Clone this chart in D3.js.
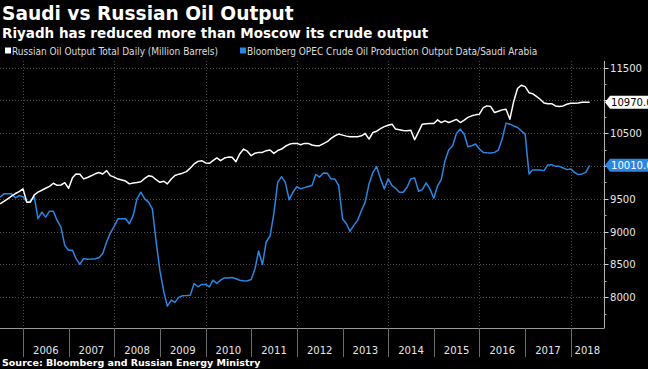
<!DOCTYPE html>
<html>
<head>
<meta charset="utf-8">
<script src="https://cdn.jsdelivr.net/npm/d3@7"></script>
<style>
  html, body { margin: 0; padding: 0; background: #000; }
  svg { display: block; }
</style>
</head>
<body>
<div id="chart"></div>
<script>
// monthly values, first point is Jul 2005
const firstMonth = new Date(2005, 6, 1);

const russia = [
  9423, 9460, 9500, 9540, 9580, 9610, 9651, 9448, 9448, 9560, 9600, 9630,
  9660, 9690, 9736, 9705, 9710, 9745, 9660, 9820, 9878, 9875, 9803, 9825,
  9850, 9880, 9900, 9878, 9929, 9853, 9830, 9800, 9785, 9770, 9727, 9740,
  9748, 9760, 9810, 9850, 9840, 9790, 9751, 9767, 9727, 9800, 9855, 9875,
  9890, 9914, 9970, 10030, 10070, 10081, 10046, 10040, 10080, 10122, 10081, 10120,
  10135, 10132, 10066, 10182, 10258, 10225, 10157, 10195, 10207, 10207, 10233, 10243,
  10192, 10235, 10258, 10300, 10330, 10344, 10344, 10324, 10344, 10344, 10320, 10309,
  10309, 10340, 10370, 10420, 10460, 10486, 10470, 10455, 10445, 10445, 10445, 10460,
  10495, 10410, 10510, 10530, 10570, 10600, 10620, 10637, 10562, 10551, 10540, 10536,
  10546, 10399, 10520, 10637, 10645, 10647, 10647, 10703, 10662, 10688, 10662, 10685,
  10710, 10662, 10700, 10740, 10764, 10779, 10789, 10890, 10916, 10905, 10814, 10835,
  10855, 10865, 10713, 10980, 11180, 11230, 11209, 11117, 11102, 11060, 11017, 10960,
  10950, 10950, 10915, 10905, 10915, 10940, 10955, 10957, 10960, 10970, 10970, 10970
];

const saudi = [
  9524, 9575, 9575, 9575, 9514, 9549, 9530, 9448, 9463, 9534, 9196, 9296,
  9220, 9311, 9311, 9170, 9068, 8790, 8714, 8714, 8588, 8502, 8588, 8578,
  8580, 8585, 8600, 8664, 8841, 8980, 9080, 9196, 9196, 9196, 9120, 9246,
  9499, 9600, 9499, 9448, 9347, 8850, 8400, 8080, 7864, 7956, 7921, 8000,
  8021, 8025, 8031, 8209, 8158, 8194, 8194, 8158, 8259, 8209, 8259, 8294,
  8294, 8300, 8280, 8259, 8250, 8248, 8270, 8437, 8704, 8497, 8841, 8932,
  9271, 9751, 9838, 9751, 9484, 9600, 9686, 9651, 9670, 9686, 9701, 9870,
  9830, 9894, 9889, 9803, 9800, 9701, 9196, 9120, 9003, 9094, 9170, 9322,
  9448, 9727, 9903, 9990, 9803, 9651, 9803, 9701, 9660, 9600, 9600, 9676,
  9803, 9818, 9615, 9640, 9742, 9651, 9509, 9701, 9787, 10081, 10248, 10309,
  10495, 10562, 10486, 10293, 10309, 10334, 10258, 10207, 10200, 10197, 10207, 10243,
  10410, 10653, 10637, 10610, 10586, 10536, 10486, 9879, 9940, 9940, 9940, 9929,
  10015, 10020, 9994, 9994, 9970, 9944, 9955, 9903, 9868, 9879, 9903, 10010
];

const years = ['2006', '2007', '2008', '2009', '2010', '2011', '2012',
               '2013', '2014', '2015', '2016', '2017', '2018'];
const yTicks = [8000, 8500, 9000, 9500, 10000, 10500, 11000, 11500];
const gridYears = ['2006', '2008', '2010', '2012', '2014', '2016', '2018'];
const seriesNames = [
  'Russian Oil Output Total Daily (Million Barrels)',
  'Bloomberg OPEC Crude Oil Production Output Data/Saudi Arabia'
];

const W = 648, H = 369;
const BOLD = '"DejaVu Sans", Verdana, sans-serif';
const COND = '"DejaVu Sans Condensed", "DejaVu Sans", sans-serif';
const BLUE = '#2a86e2';

const plot = { left: 0, right: 604, top: 61, bottom: 328 };

const svg = d3.select('#chart').append('svg')
  .attr('width', W).attr('height', H)
  .style('background', '#000');

const x = d3.scaleTime()
  .domain([new Date(2005, 6, 1), new Date(2018, 8, 24)])
  .range([plot.left, plot.right]);

const y = d3.scaleLinear()
  .domain([7530, 11600])
  .range([plot.bottom, plot.top]);

const date = i => d3.timeMonth.offset(firstMonth, i);

// titles
svg.append('text')
  .text('Saudi vs Russian Oil Output')
  .attr('x', 2).attr('y', 20)
  .attr('fill', '#fff').attr('font-family', BOLD)
  .attr('font-size', '18.6px').attr('font-weight', 'bold');

svg.append('text')
  .text('Riyadh has reduced more than Moscow its crude output')
  .attr('x', 2).attr('y', 38)
  .attr('fill', '#fff').attr('font-family', BOLD)
  .attr('font-size', '13.5px').attr('font-weight', 'bold');

// legend
const legend = svg.append('g').attr('transform', 'translate(5,52)');
[{ c: '#fff', x: 0 }, { c: BLUE, x: 235 }].forEach((item, i) => {
  legend.append('rect')
    .attr('x', item.x).attr('y', -4.5)
    .attr('width', 6).attr('height', 6)
    .attr('fill', item.c);
  legend.append('text')
    .text(seriesNames[i])
    .attr('x', item.x + 7).attr('y', 0)
    .attr('dy', '0.3em')
    .attr('fill', '#ddd').attr('font-family', COND)
    .attr('font-size', '10px');
});

// grid
const grid = svg.append('g')
  .attr('stroke', '#4a4a4a')
  .attr('stroke-dasharray', '1,2')
  .attr('stroke-width', 1);

grid.selectAll('line.h')
  .data(yTicks)
  .join('line')
  .attr('x1', plot.left).attr('x2', plot.right)
  .attr('y1', d => Math.round(y(d)) + 0.5)
  .attr('y2', d => Math.round(y(d)) + 0.5);

grid.selectAll('line.v')
  .data(gridYears)
  .join('line')
  .attr('class', 'v')
  .attr('x1', d => Math.round(x(new Date(+d, 0, 1))) + 0.5)
  .attr('x2', d => Math.round(x(new Date(+d, 0, 1))) + 0.5)
  .attr('y1', plot.top).attr('y2', plot.bottom);

// x axis: year boundaries and centred labels
const xAxis = svg.append('g');
xAxis.append('line')
  .attr('x1', plot.left).attr('x2', plot.right)
  .attr('y1', plot.bottom + 0.5).attr('y2', plot.bottom + 0.5)
  .attr('stroke', '#9a9a9a');

xAxis.selectAll('line.tick')
  .data(years)
  .join('line')
  .attr('class', 'tick')
  .attr('x1', d => Math.round(x(new Date(+d, 0, 1))) + 0.5)
  .attr('x2', d => Math.round(x(new Date(+d, 0, 1))) + 0.5)
  .attr('y1', plot.bottom).attr('y2', plot.bottom + 29)
  .attr('stroke', '#6a6a6a');

xAxis.selectAll('text')
  .data(years)
  .join('text')
  .text(d => d)
  .attr('x', d => {
    const a = x(new Date(+d, 0, 1));
    const b = Math.min(x(new Date(+d + 1, 0, 1)), plot.right);
    return (a + b) / 2;
  })
  .attr('y', 354)
  .attr('text-anchor', 'middle')
  .attr('fill', '#e6e6e6').attr('font-family', COND)
  .attr('font-size', '11.2px');

// right y axis
const yAxis = svg.append('g').attr('transform', `translate(${plot.right + 0.5},0)`);
yAxis.append('line')
  .attr('y1', plot.top).attr('y2', plot.bottom + 0.5)
  .attr('stroke', '#b0b0b0');

const minor = d3.range(7750, 11600, 250).filter(v => !yTicks.includes(v));
yAxis.selectAll('line.minor')
  .data(minor)
  .join('line')
  .attr('class', 'minor')
  .attr('x1', 0).attr('x2', 2)
  .attr('y1', d => Math.round(y(d)) + 0.5).attr('y2', d => Math.round(y(d)) + 0.5)
  .attr('stroke', '#b0b0b0');

yAxis.selectAll('line.major')
  .data(yTicks)
  .join('line')
  .attr('class', 'major')
  .attr('x1', 0).attr('x2', 4)
  .attr('y1', d => Math.round(y(d)) + 0.5).attr('y2', d => Math.round(y(d)) + 0.5)
  .attr('stroke', '#d0d0d0');

yAxis.selectAll('text')
  .data(yTicks.filter(d => d !== 11000 && d !== 10000))
  .join('text')
  .text(d => d)
  .attr('x', 5.5)
  .attr('y', d => y(d))
  .attr('dy', '0.36em')
  .attr('fill', '#e6e6e6').attr('font-family', COND)
  .attr('font-size', '11.2px');

// lines
const line = d3.line()
  .x((d, i) => x(date(i)))
  .y(d => y(d));

svg.append('path')
  .datum(saudi)
  .attr('d', line)
  .attr('fill', 'none')
  .attr('stroke', BLUE)
  .attr('stroke-width', 1.5)
  .attr('stroke-linejoin', 'round');

svg.append('path')
  .datum(russia)
  .attr('d', line)
  .attr('fill', 'none')
  .attr('stroke', '#fff')
  .attr('stroke-width', 1.5)
  .attr('stroke-linejoin', 'round');

// last value tags (clipped by the right edge, as in the original)
const fmt = d3.format('.1f');
[{ v: russia[russia.length - 1], bg: '#fff', fg: '#000' },
 { v: saudi[saudi.length - 1], bg: BLUE, fg: '#fff' }].forEach(t => {
  const cy = y(t.v);
  const x0 = plot.right + 1;
  svg.append('path')
    .attr('d', `M${x0},${cy} L${x0 + 5},${cy - 6.5} L${W + 2},${cy - 6.5} L${W + 2},${cy + 6.5} L${x0 + 5},${cy + 6.5} Z`)
    .attr('fill', t.bg);
  svg.append('text')
    .text(fmt(t.v))
    .attr('x', x0 + 6).attr('y', cy)
    .attr('dy', '0.36em')
    .attr('fill', t.fg).attr('font-family', COND)
    .attr('font-size', '11.2px');
});

// source
svg.append('text')
  .text('Source: Bloomberg and Russian Energy Ministry')
  .attr('x', 2).attr('y', 366)
  .attr('fill', '#fff').attr('font-family', BOLD)
  .attr('font-size', '9.5px').attr('font-weight', 'bold');
</script>
</body>
</html>
